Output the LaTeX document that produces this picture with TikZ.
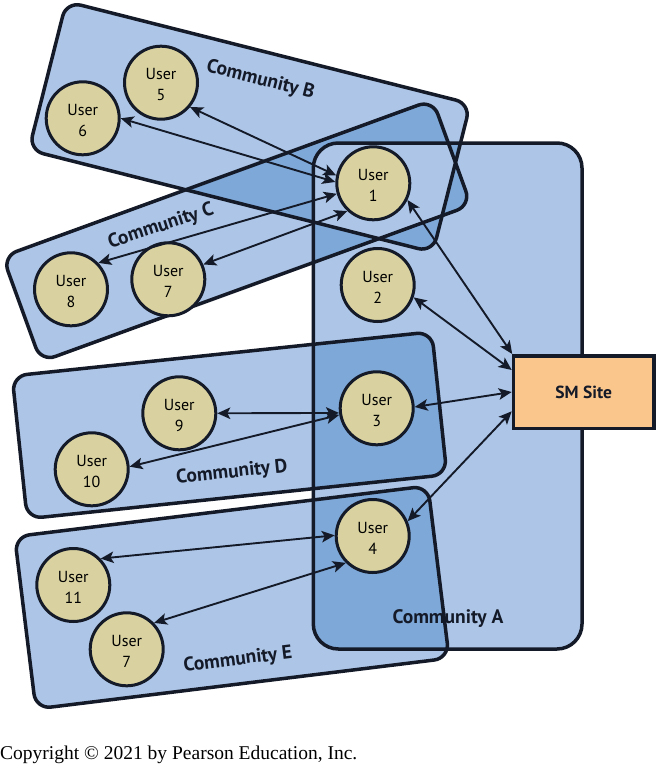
\documentclass[tikz,border=0pt]{standalone}
\usepackage{fontspec}
\setmainfont{PT Sans}
\newfontfamily\copyfont{Liberation Serif}
\usetikzlibrary{arrows.meta}
\definecolor{lightB}{HTML}{ADC6E8}
\definecolor{darkB}{HTML}{7EA8D8}
\definecolor{userF}{HTML}{D9D2A0}
\definecolor{smF}{HTML}{FBC68C}
\definecolor{ink}{HTML}{141A28}
\newcommand\commA{{[rounded corners=25pt] (313.3,143) rectangle (582,649)}}
\newcommand\commB{{[shift={(249.6,126.9)},rotate=-14.2,rounded corners=15pt] (-208.4,-76.6) rectangle (208.4,76.6)}}
\newcommand\commC{{[shift={(236.8,230.8)},rotate=20,rounded corners=15pt] (-228.8,-56) rectangle (228.8,56)}}
\newcommand\commD{{[shift={(229.5,425.3)},rotate=6,rounded corners=15pt] (-211,-71.8) rectangle (211,71.8)}}
\newcommand\commE{{[shift={(231.9,597.4)},rotate=7,rounded corners=15pt] (-208.2,-86.8) rectangle (208.2,86.8)}}
\newcommand\usr[1]{\raisebox{-3.5pt}[\height][\depth]{\begin{tabular}{@{}c@{}}User\\#1\end{tabular}}}
\tikzset{
  commline/.style={draw=ink, line width=3.5pt},
  user/.style={circle, draw=ink, line width=3pt, fill=userF, minimum size=73pt,
    inner sep=0pt, font=\fontsize{16}{21}\selectfont},
  commlabel/.style={font=\bfseries\fontsize{19.5}{22}\selectfont, text=ink, inner sep=0pt},
  link/.style={draw=ink, line width=1.9pt,
    {Stealth[length=13pt,width=11.5pt,inset=3pt]}-{Stealth[length=13pt,width=11.5pt,inset=3pt]}},
}
\begin{document}
\begin{tikzpicture}[x=1pt,y=-1pt]
\useasboundingbox (0,0) rectangle (659,765);
% community fills: overlaps of two are darker
\fill[darkB] \commA;
\fill[darkB] \commB;
\fill[darkB] \commC;
\fill[darkB] \commD;
\fill[darkB] \commE;
\fill[lightB, even odd rule] \commA \commB \commC \commD \commE;
% community outlines
\draw[commline] \commA;
\draw[commline] \commB;
\draw[commline] \commC;
\draw[commline] \commD;
\draw[commline] \commE;
% labels
\node[commlabel, rotate=-14.2] (lB) at (260.5,80) {Community B};
\node[commlabel, rotate=18] (lC) at (161,226.5) {Community C};
\node[commlabel, rotate=6] (lD) at (232,472.7) {Community D};
\node[commlabel, rotate=7] (lE) at (238,660) {Community E};
\node[commlabel] (lA) at (448,619) {Community A};
% users
\node[user] (u5) at (161,82.7) {\usr{5}};
\node[user] (u6) at (82.7,118.3) {\usr{6}};
\node[user] (u1) at (373.3,183.3) {\usr{1}};
\node[user] (u8) at (71,289.3) {\usr{8}};
\node[user] (u7c) at (168.3,279.3) {\usr{7}};
\node[user] (u2) at (377.7,285) {\usr{2}};
\node[user] (u9) at (179.3,413.3) {\usr{9}};
\node[user] (u10) at (91.7,469.3) {\usr{10}};
\node[user] (u3) at (376.7,408.3) {\usr{3}};
\node[user] (u4) at (372.7,536) {\usr{4}};
\node[user] (u11) at (73.3,585) {\usr{11}};
\node[user] (u7e) at (126.7,649.3) {\usr{7}};
% SM site
\node[draw=ink, line width=3.5pt, fill=smF, minimum width=140.5pt, minimum height=72.5pt,
  inner sep=0pt, font=\bfseries\fontsize{17.5}{20}\selectfont, text=ink] (sm) at (583.7,392) {SM Site};
% connectors
\draw[link] (u5.-40) -- (u1.168);
\draw[link] (u6.east) -- (u1.178);
\draw[link] (u8.44) -- (u1.196);
\draw[link] (u7c.23) -- (u1.227);
\draw[link] (u9.east) -- (u3.187);
\draw[link] (u10.4) -- (u3.190);
\draw[link] (u11.44) -- (u4.179);
\draw[link] (u7e.44) -- (u4.225);
\draw[link] (u1.-26) -- (sm.152);
\draw[link] (u2.-19) -- (sm.163);
\draw[link] (u3.2) -- (sm.west);
\draw[link] (u4.23) -- (sm.195);
% copyright
\node[anchor=base west, inner sep=0pt, font=\copyfont\fontsize{19.5}{22}\selectfont] (copy) at (0,759) {Copyright © 2021 by Pearson Education, Inc.};
\end{tikzpicture}
\end{document}
